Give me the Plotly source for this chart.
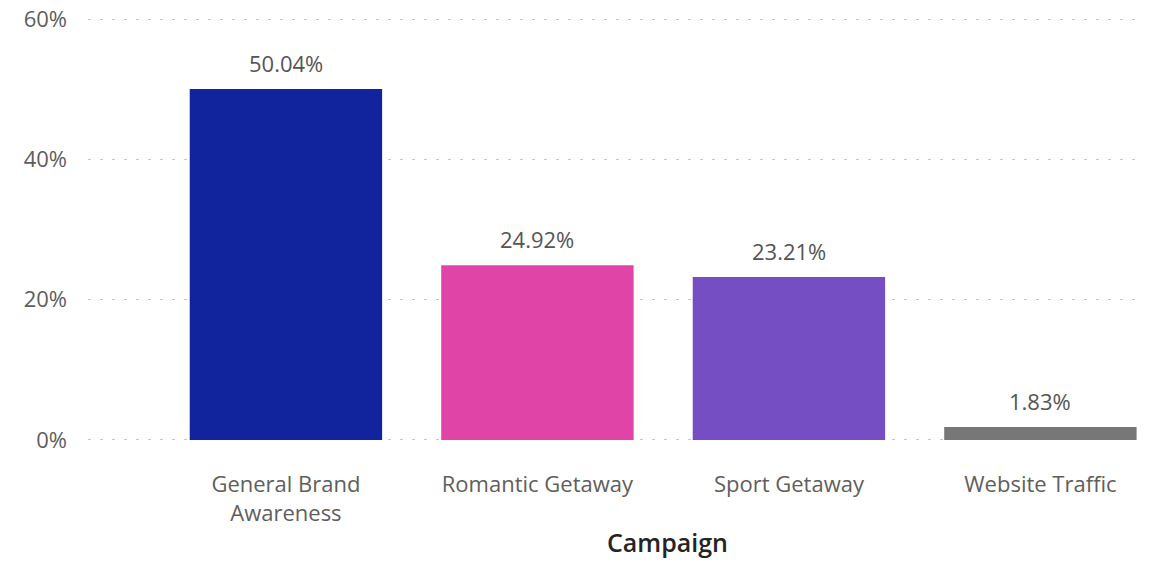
import plotly.graph_objects as go

# Share of total by campaign
campaigns = ["General Brand<br>Awareness", "Romantic Getaway", "Sport Getaway", "Website Traffic"]
share_pct = [50.04, 24.92, 23.21, 1.83]
bar_colors = ["#12239E", "#E044A7", "#744EC2", "#777777"]
y_ticks = [0, 20, 40, 60]
y_tick_text = ["0%", "20%", "40%", "60%"]

FONT = "Open Sans, Noto Sans, DejaVu Sans, sans-serif"
x_pos = list(range(len(campaigns)))

fig = go.Figure(
    go.Bar(
        x=x_pos,
        y=share_pct,
        marker=dict(color=bar_colors, line=dict(width=0)),
        width=0.765,
        hoverinfo="skip",
    )
)

# value labels above each bar
for xi, v in zip(x_pos, share_pct):
    fig.add_annotation(
        x=xi, y=v, xref="x", yref="y",
        text=f"{v:.2f}%",
        showarrow=False,
        yanchor="bottom",
        yshift=9,
        font=dict(family=FONT, size=22, color="#555555"),
    )

# axis title
fig.add_annotation(
    x=0.5504, y=-0.235, xref="paper", yref="paper",
    text="Campaign", showarrow=False,
    xanchor="center", yanchor="middle",
    font=dict(family=FONT, size=25, color="#252423", weight=600),
)

fig.update_layout(
    width=1154,
    height=564,
    margin=dict(l=88, r=14, t=17, b=122),
    paper_bgcolor="white",
    plot_bgcolor="white",
    showlegend=False,
    font=dict(family=FONT),
)

fig.update_xaxes(
    range=[-0.787, 3.396],
    tickmode="array",
    tickvals=x_pos,
    ticktext=campaigns,
    tickfont=dict(family=FONT, size=22, color="#605E5C"),
    showgrid=False,
    showline=False,
    zeroline=False,
    ticks="",
    ticklabelstandoff=27,
    automargin=False,
)

fig.update_yaxes(
    range=[-0.3, 60.3],
    tickmode="array",
    tickvals=y_ticks,
    ticktext=y_tick_text,
    tickfont=dict(family=FONT, size=22, color="#605E5C"),
    showgrid=True,
    gridcolor="#C8C8C8",
    griddash="3px,9px",
    gridwidth=1,
    zeroline=False,
    showline=False,
    ticks="",
    ticklabelstandoff=20,
    automargin=False,
)

fig.write_html("out.html")
